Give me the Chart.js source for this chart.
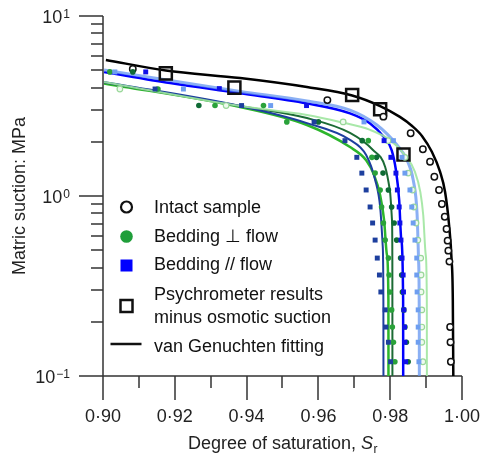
<!DOCTYPE html>
<html>
<head>
  <meta charset="UTF-8">
  <title>Matric suction vs degree of saturation</title>
  <script src="https://cdn.jsdelivr.net/npm/chart.js"></script>
  <style>
    body { margin: 0; background: #fff; }
    #wrap { width: 480px; height: 461px; position: relative; }
  </style>
</head>
<body>
  <div id="wrap"><canvas id="chart"></canvas></div>

  <script>
    // measured points: degree of saturation and matric suction (MPa)
    const intactSr = [0.9083, 0.9625, 0.9781, 0.9857, 0.9891, 0.9911, 0.9923, 0.9936, 0.9944, 0.9952, 0.9957, 0.9960, 0.9962, 0.9965, 0.9967, 0.9968, 0.9969];
    const intactSuction = [5.08, 3.41, 2.76, 2.23, 1.82, 1.55, 1.28, 1.08, 0.903, 0.767, 0.656, 0.565, 0.497, 0.432, 0.187, 0.154, 0.120];

    const perpGreenSr = [0.9019, 0.9153, 0.9312, 0.9447, 0.9512, 0.9739, 0.9749, 0.9758, 0.9772, 0.9776, 0.9781, 0.9786, 0.9795, 0.9797, 0.9799, 0.9804, 0.9806, 0.9809, 0.9813];
    const perpGreenSuction = [4.89, 3.93, 3.18, 3.18, 2.58, 2.03, 1.64, 1.34, 1.08, 0.869, 0.708, 0.569, 0.452, 0.364, 0.293, 0.233, 0.187, 0.154, 0.120];
    const perpDarkSr = [0.9083, 0.9267, 0.9600, 0.9722, 0.9762, 0.9780, 0.9795, 0.9804, 0.9811, 0.9818, 0.9829, 0.9832, 0.9834, 0.9838, 0.9841, 0.9845, 0.9850];
    const perpDarkSuction = [4.89, 3.18, 2.58, 2.03, 1.64, 1.34, 1.08, 0.869, 0.708, 0.569, 0.452, 0.364, 0.293, 0.233, 0.187, 0.154, 0.120];
    const perpPaleSr = [0.9047, 0.9343, 0.9669, 0.9794, 0.9841, 0.9850, 0.9862, 0.9866, 0.9872, 0.9877, 0.9885, 0.9886, 0.9886, 0.9888, 0.9888, 0.9888, 0.9891];
    const perpPaleSuction = [3.93, 3.18, 2.58, 2.03, 1.64, 1.34, 1.08, 0.869, 0.708, 0.569, 0.452, 0.364, 0.293, 0.233, 0.187, 0.154, 0.120];

    const parBlueSr = [0.9119, 0.9324, 0.9567, 0.9783, 0.9802, 0.9816, 0.9820, 0.9825, 0.9827, 0.9830, 0.9833, 0.9836, 0.9837, 0.9838, 0.9840, 0.9841, 0.9843];
    const parBlueSuction = [4.89, 3.95, 3.18, 2.03, 1.64, 1.34, 1.08, 0.869, 0.708, 0.569, 0.452, 0.364, 0.293, 0.233, 0.187, 0.154, 0.120];
    const parNavySr = [0.9145, 0.9386, 0.9588, 0.9674, 0.9707, 0.9721, 0.9733, 0.9744, 0.9751, 0.9758, 0.9764, 0.9770, 0.9774, 0.9786, 0.9788, 0.9795, 0.9801];
    const parNavySuction = [3.93, 3.18, 2.58, 2.03, 1.64, 1.34, 1.08, 0.869, 0.708, 0.569, 0.452, 0.364, 0.293, 0.233, 0.187, 0.154, 0.120];
    const parLightSr = [0.9033, 0.9224, 0.9467, 0.9727, 0.9809, 0.9833, 0.9841, 0.9855, 0.9860, 0.9864, 0.9869, 0.9874, 0.9874, 0.9875, 0.9878, 0.9878, 0.9878, 0.9880];
    const parLightSuction = [4.89, 3.93, 3.18, 2.58, 2.03, 1.64, 1.34, 1.08, 0.869, 0.708, 0.569, 0.452, 0.364, 0.293, 0.233, 0.187, 0.154, 0.120];

    const psychroSr = [0.9175, 0.9366, 0.9694, 0.9772, 0.9837];
    const psychroSuction = [4.80, 4.00, 3.64, 3.03, 1.70];

    // van Genuchten fitted curves
    const fitIntactSr = [0.9008, 0.9175, 0.9382, 0.9568, 0.9694, 0.9772, 0.9827, 0.9861, 0.9889, 0.9916, 0.9939, 0.9953, 0.9964, 0.9971, 0.99744, 0.99758];
    const fitIntactSuction = [5.70, 4.98, 4.52, 4.03, 3.62, 3.16, 2.75, 2.45, 2.15, 1.76, 1.36, 1.05, 0.69, 0.441, 0.264, 0.1];
    const fitBlueSr = [0.9003, 0.9187, 0.9382, 0.9568, 0.9688, 0.9744, 0.9781, 0.9804, 0.9816, 0.9825, 0.9831, 0.9836, 0.98362];
    const fitBlueSuction = [4.89, 4.24, 3.72, 3.27, 2.88, 2.53, 2.14, 1.80, 1.39, 0.95, 0.57, 0.264, 0.1];
    const fitLightSr = [0.9003, 0.9382, 0.9568, 0.9688, 0.9763, 0.9819, 0.9847, 0.9864, 0.9875, 0.9879, 0.9881, 0.98812];
    const fitLightSuction = [5.01, 3.81, 3.37, 3.00, 2.48, 1.92, 1.58, 1.23, 0.784, 0.441, 0.205, 0.1];
    const fitNavySr = [0.9003, 0.9382, 0.9568, 0.9688, 0.9733, 0.9758, 0.9772, 0.9779, 0.9781, 0.97812];
    const fitNavySuction = [4.30, 3.16, 2.54, 2.05, 1.69, 1.23, 0.869, 0.534, 0.264, 0.1];
    const fitGreenSr = [0.9003, 0.9382, 0.9568, 0.9688, 0.9733, 0.9755, 0.9772, 0.9783, 0.9791, 0.9795, 0.97952];
    const fitGreenSuction = [4.22, 3.12, 2.48, 1.87, 1.58, 1.31, 1.01, 0.735, 0.47, 0.264, 0.1];
    const fitDarkSr = [0.9003, 0.9382, 0.9568, 0.9688, 0.9752, 0.9786, 0.9799, 0.9805, 0.9806, 0.98062];
    const fitDarkSuction = [4.27, 3.16, 2.71, 2.24, 1.80, 1.45, 1.08, 0.735, 0.441, 0.1];
    const fitPaleSr = [0.9003, 0.9382, 0.9568, 0.9660, 0.9744, 0.9799, 0.9841, 0.9869, 0.9884, 0.9892, 0.9899, 0.9902, 0.99022];
    const fitPaleSuction = [4.30, 3.16, 2.82, 2.58, 2.33, 2.05, 1.69, 1.36, 1.05, 0.784, 0.47, 0.264, 0.1];

    // axis ticks
    const xMajorTicks = [0.90, 0.92, 0.94, 0.96, 0.98, 1.00];
    const xMinorTicks = [0.91, 0.93, 0.95, 0.97, 0.99];
    const xTickLabels = ["0·90", "0·92", "0·94", "0·96", "0·98", "1·00"];
    const yMajorTicks = [0.1, 1, 10];
    const yMinorTicks = [0.2, 0.3, 0.4, 0.5, 0.6, 0.7, 0.8, 0.9, 2, 3, 4, 5, 6, 7, 8, 9];
    const yTickExponents = ["\u22121", "0", "1"];

    const FONT = 'Arial, "Liberation Sans", sans-serif';

    function pts(xs, ys) {
      return xs.map((v, i) => ({ x: v, y: ys[i] }));
    }

    function fitLine(xs, ys, color, width) {
      return {
        data: pts(xs, ys), showLine: true, borderColor: color, borderWidth: width,
        pointRadius: 0, cubicInterpolationMode: "monotone", fill: false, order: 1
      };
    }

    function marks(xs, ys, style, radius, fillColor, strokeColor, width) {
      return {
        data: pts(xs, ys), showLine: false, pointStyle: style, pointRadius: radius,
        backgroundColor: fillColor, borderColor: strokeColor, borderWidth: width, order: 0
      };
    }

    const axesPlugin = {
      id: "axesPlugin",
      beforeDatasetsDraw(chart) {
        const { ctx, chartArea: a, scales: { x, y } } = chart;
        ctx.save();
        ctx.strokeStyle = "#333";
        ctx.lineWidth = 1.5;
        ctx.beginPath();
        ctx.moveTo(a.left, a.top);
        ctx.lineTo(a.left, a.bottom);
        ctx.moveTo(a.left - 24, a.bottom);
        ctx.lineTo(a.right, a.bottom);
        yMajorTicks.forEach(v => {
          const py = Math.round(y.getPixelForValue(v));
          ctx.moveTo(a.left - 24, py); ctx.lineTo(a.left, py);
        });
        yMinorTicks.forEach(v => {
          const py = Math.round(y.getPixelForValue(v));
          ctx.moveTo(a.left - 12, py); ctx.lineTo(a.left, py);
        });
        xMajorTicks.forEach(v => {
          const px = Math.round(x.getPixelForValue(v));
          ctx.moveTo(px, a.bottom); ctx.lineTo(px, a.bottom + 24);
        });
        xMinorTicks.forEach(v => {
          const px = Math.round(x.getPixelForValue(v));
          ctx.moveTo(px, a.bottom); ctx.lineTo(px, a.bottom + 12);
        });
        ctx.stroke();

        ctx.fillStyle = "#222";
        ctx.textBaseline = "alphabetic";
        // x tick labels
        ctx.font = "18px " + FONT;
        ctx.textAlign = "center";
        xMajorTicks.forEach((v, i) => {
          ctx.fillText(xTickLabels[i], x.getPixelForValue(v), a.bottom + 46);
        });
        // y tick labels with superscript
        yMajorTicks.forEach((v, i) => {
          const py = y.getPixelForValue(v);
          ctx.font = "12px " + FONT;
          ctx.textAlign = "right";
          const ew = ctx.measureText(yTickExponents[i]).width;
          ctx.fillText(yTickExponents[i], 70, py + 2);
          ctx.font = "18px " + FONT;
          ctx.fillText("10", 70 - ew - 1, py + 7);
        });
        // axis titles
        ctx.font = "18px " + FONT;
        const t1 = "Degree of saturation, ";
        ctx.textAlign = "left";
        const w1 = ctx.measureText(t1).width;
        ctx.font = "italic 18px " + FONT;
        const w2 = ctx.measureText("S").width;
        ctx.font = "12px " + FONT;
        const w3 = ctx.measureText("r").width;
        let sx = (a.left + a.right) / 2 - (w1 + w2 + w3) / 2;
        ctx.font = "18px " + FONT;
        ctx.fillText(t1, sx, 449);
        ctx.font = "italic 18px " + FONT;
        ctx.fillText("S", sx + w1, 449);
        ctx.font = "12px " + FONT;
        ctx.fillText("r", sx + w1 + w2 + 0.5, 453);

        ctx.save();
        ctx.translate(25, (a.top + a.bottom) / 2);
        ctx.rotate(-Math.PI / 2);
        ctx.font = "18px " + FONT;
        ctx.textAlign = "center";
        ctx.fillText("Matric suction: MPa", 0, 0);
        ctx.restore();

        // legend
        ctx.font = "18px " + FONT;
        ctx.textAlign = "left";
        ctx.fillStyle = "#111";
        ctx.fillText("Intact sample", 154, 213);
        ctx.fillText("Bedding \u22a5 flow", 154, 242);
        ctx.fillText("Bedding // flow", 154, 270);
        ctx.fillText("Psychrometer results", 154, 300);
        ctx.fillText("minus osmotic suction", 154, 323);
        ctx.fillText("van Genuchten fitting", 154, 352);

        ctx.lineWidth = 2.2;
        ctx.strokeStyle = "#111";
        ctx.beginPath();
        ctx.arc(126.5, 207, 5.5, 0, Math.PI * 2);
        ctx.stroke();
        ctx.fillStyle = "#1f9e3a";
        ctx.beginPath();
        ctx.arc(126.5, 236.5, 6.3, 0, Math.PI * 2);
        ctx.fill();
        ctx.fillStyle = "#0000ff";
        ctx.fillRect(120.5, 259.5, 12, 12);
        ctx.lineWidth = 2.5;
        ctx.strokeRect(120.5, 300, 12, 12);
        ctx.beginPath();
        ctx.moveTo(110.5, 344);
        ctx.lineTo(141.5, 344);
        ctx.stroke();
        ctx.restore();
      }
    };

    new Chart(document.getElementById("chart"), {
      type: "scatter",
      data: {
        datasets: [
          fitLine(fitPaleSr, fitPaleSuction, "rgba(160,230,160,0.9)", 2),
          fitLine(fitLightSr, fitLightSuction, "rgba(100,150,240,0.75)", 3),
          fitLine(fitNavySr, fitNavySuction, "#1d3f9e", 2),
          fitLine(fitDarkSr, fitDarkSuction, "#1c6b35", 2),
          fitLine(fitGreenSr, fitGreenSuction, "#2cb52c", 2.5),
          fitLine(fitBlueSr, fitBlueSuction, "#0000ff", 2.5),
          fitLine(fitIntactSr, fitIntactSuction, "#000", 2.5),
          marks(parNavySr, parNavySuction, "rect", 3.5, "#1d3f9e", "#1d3f9e", 0),
          marks(parBlueSr, parBlueSuction, "rect", 3.5, "#1010e8", "#1010e8", 0),
          marks(parLightSr, parLightSuction, "rect", 3.5, "#6e9ef0", "#6e9ef0", 0),
          marks(perpGreenSr, perpGreenSuction, "circle", 2.8, "#2aa23a", "#2aa23a", 0),
          marks(perpDarkSr, perpDarkSuction, "circle", 2.8, "#0f6b35", "#0f6b35", 0),
          marks(perpPaleSr, perpPaleSuction, "circle", 2.8, "#eefaee", "#9ad89a", 1.2),
          marks(intactSr, intactSuction, "circle", 3.2, "#fff", "#111", 1.5),
          marks(psychroSr, psychroSuction, "rect", 8.5, "rgba(255,255,255,0)", "#111", 2.5)
        ]
      },
      options: {
        animation: false,
        responsive: true,
        maintainAspectRatio: false,
        layout: { padding: { left: 103, top: 16, right: 18, bottom: 85 } },
        scales: {
          x: { type: "linear", min: 0.9, max: 1.0, display: false },
          y: { type: "logarithmic", min: 0.1, max: 10, display: false }
        },
        plugins: {
          legend: { display: false },
          tooltip: { enabled: false }
        }
      },
      plugins: [axesPlugin]
    });
  </script>
</body>
</html>
